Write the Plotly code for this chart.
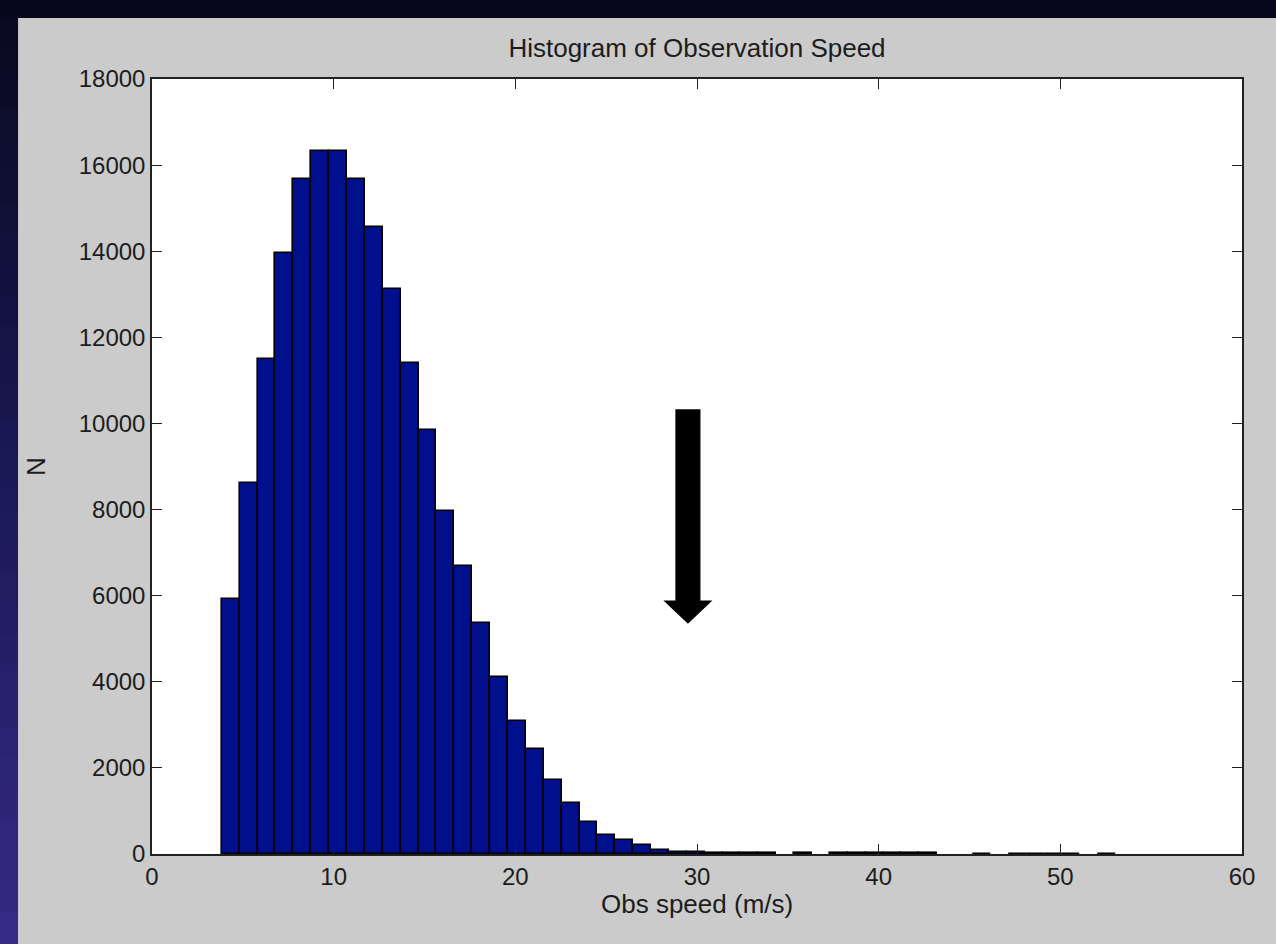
import numpy as np
import plotly.graph_objects as go

# histogram of observation speed (50 bins, MATLAB-style hist)
bin_lo = 3.84
bin_hi = 53.07
counts = [5920, 8610, 11500, 13950, 15680, 16320, 16320, 15680, 14560, 13120,
          11400, 9840, 7970, 6700, 5370, 4100, 3090, 2430, 1730, 1180,
          750, 430, 330, 210, 95, 55, 40, 30, 25, 20,
          15, 0, 12, 0, 12, 12, 12, 12, 12, 12,
          0, 0, 10, 0, 10, 10, 10, 10, 0, 10]
x_ticks = [0, 10, 20, 30, 40, 50, 60]
y_ticks = [0, 2000, 4000, 6000, 8000, 10000, 12000, 14000, 16000, 18000]

# arrow annotation (data coords)
arrow_x = 29.5
arrow_top = 10330
arrow_tip = 5350
head_base = 5890
shaft_half = 0.69
head_half = 1.35

edges = np.linspace(bin_lo, bin_hi, len(counts) + 1)
centers = (edges[:-1] + edges[1:]) / 2
bin_w = edges[1] - edges[0]

FONT = "Liberation Sans, Arial, sans-serif"
TXT = "#1c1c1c"

fig = go.Figure()
fig.add_trace(go.Bar(
    x=centers, y=counts, width=bin_w,
    marker=dict(color="rgb(0,16,140)",
                line=dict(color="black", width=[1.6 if c > 0 else 0 for c in counts])),
    hoverinfo="x+y",
))

arrow_path = (
    f"M {arrow_x - shaft_half},{arrow_top} L {arrow_x + shaft_half},{arrow_top} "
    f"L {arrow_x + shaft_half},{head_base} L {arrow_x + head_half},{head_base} "
    f"L {arrow_x},{arrow_tip} L {arrow_x - head_half},{head_base} "
    f"L {arrow_x - shaft_half},{head_base} Z"
)

shapes = [dict(type="path", path=arrow_path, xref="x", yref="y",
               fillcolor="black", line=dict(width=0), layer="above")]

# dark slide background strips outside the grey figure panel
shapes.append(dict(type="rect", xref="paper", yref="paper",
                   x0=-0.3, x1=1.2, y0=1.0787, y1=1.3,
                   fillcolor="#08081d", line=dict(width=0), layer="below"))
top_c = np.array([10, 10, 34])
mid_c = np.array([26, 26, 88])
bot_c = np.array([54, 42, 132])
n_slices = 30
y_top, y_bot = 1.0787, -0.1161
for i in range(n_slices):
    t = i / (n_slices - 1)
    if t < 0.5:
        c = top_c + (mid_c - top_c) * (t / 0.5)
    else:
        c = mid_c + (bot_c - mid_c) * ((t - 0.5) / 0.5)
    y1 = y_top + (y_bot - y_top) * i / n_slices
    y0 = y_top + (y_bot - y_top) * (i + 1) / n_slices
    shapes.append(dict(type="rect", xref="paper", yref="paper",
                       x0=-0.3, x1=-0.1229, y0=y0 - 0.001, y1=y1 + 0.001,
                       fillcolor="rgb(%d,%d,%d)" % tuple(c.astype(int)),
                       line=dict(width=0), layer="below"))
shapes.append(dict(type="rect", xref="paper", yref="paper",
                   x0=-0.3, x1=-0.1229, y0=-0.3, y1=y_bot,
                   fillcolor="rgb(%d,%d,%d)" % tuple(bot_c), line=dict(width=0), layer="below"))

axis_common = dict(
    showline=True, linecolor="#222222", linewidth=1.5, mirror="ticks",
    ticks="inside", ticklen=10, tickwidth=1.3, tickcolor="#222222",
    showgrid=False, zeroline=False, tickformat="d",
    tickfont=dict(family=FONT, size=24, color=TXT),
)

fig.update_layout(
    width=1276, height=944,
    margin=dict(l=152, r=34, t=79, b=90),
    paper_bgcolor="#cbcbcb",
    plot_bgcolor="white",
    showlegend=False,
    bargap=0,
    shapes=shapes,
    title=dict(text="Histogram of Observation Speed", x=0.5, xref="paper",
               y=1 - 48 / 944, yanchor="middle",
               font=dict(family=FONT, size=26, color=TXT)),
    xaxis=dict(range=[0, 60], tickvals=x_ticks, **axis_common),
    yaxis=dict(range=[0, 18000], tickvals=y_ticks,
               title=dict(text="N", standoff=26,
                          font=dict(family=FONT, size=26, color=TXT)),
               **axis_common),
    annotations=[dict(text="Obs speed (m/s)", xref="paper", yref="paper",
                      x=0.5, y=-0.064, yanchor="middle", showarrow=False,
                      font=dict(family=FONT, size=26, color=TXT))],
)

fig.write_html("out.html", config={"displayModeBar": False},
               post_script="document.body.style.margin='0';document.body.style.overflow='hidden';")
